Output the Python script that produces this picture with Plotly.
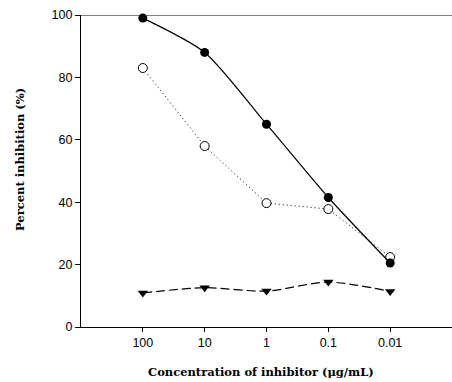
import plotly.graph_objects as go

conc_labels = ["100", "10", "1", "0.1", "0.01"]
pos = [0, 1, 2, 3, 4]
filled = [99.0, 88.0, 65.0, 41.5, 20.5]
open_c = [83.0, 58.0, 39.7, 37.8, 22.4]
triangles = [10.9, 12.6, 11.5, 14.4, 11.4]

fig = go.Figure()
fig.add_trace(go.Scatter(x=pos, y=open_c, mode="lines+markers",
                         line=dict(color="black", width=1, dash="1px,3px"),
                         marker=dict(symbol="circle", size=9, color="white",
                                     line=dict(color="black", width=1)),
                         cliponaxis=False))
fig.add_trace(go.Scatter(x=pos, y=filled, mode="lines+markers",
                         line=dict(color="black", width=1.2, shape="spline", smoothing=0.7),
                         marker=dict(symbol="circle", size=9, color="black"),
                         cliponaxis=False))
fig.add_trace(go.Scatter(x=pos, y=triangles, mode="lines+markers",
                         line=dict(color="black", width=1.2, dash="9px,4px", shape="spline", smoothing=0.8),
                         marker=dict(symbol="triangle-down", size=9, color="black"),
                         cliponaxis=False))

fig.add_shape(type="line", xref="paper", yref="y", x0=0, x1=1, y0=100, y1=100,
              line=dict(color="black", width=1.2))

title_font = dict(family="DejaVu Serif", size=11.5, color="black")
fig.add_annotation(text="<b>Concentration of inhibitor (μg/mL)</b>", xref="paper", yref="paper",
                   x=(261 - 81) / 371, y=-(372 - 327) / 312, xanchor="center", yanchor="middle",
                   showarrow=False, font=title_font)
fig.add_annotation(text="<b>Percent inhibition (%)</b>", xref="paper", yref="paper",
                   x=-(81 - 20) / 371, y=(327 - 160) / 312, xanchor="center", yanchor="middle",
                   textangle=-90, showarrow=False, font=title_font)

fig.update_layout(
    width=452, height=382,
    margin=dict(l=81, r=0, t=15, b=55),
    paper_bgcolor="white", plot_bgcolor="white",
    showlegend=False,
    font=dict(family="Liberation Sans, Arial", size=12.5, color="black"),
)
fig.update_xaxes(range=[-1, 5], tickvals=pos, ticktext=conc_labels,
                 showgrid=False, zeroline=False, showline=True, linecolor="black", linewidth=1.2,
                 ticks="outside", ticklen=4, tickcolor="black")
fig.update_yaxes(range=[0, 100], tickvals=[0, 20, 40, 60, 80, 100],
                 showgrid=False, zeroline=False, showline=True, linecolor="black", linewidth=1.2,
                 ticks="outside", ticklen=5, tickcolor="black")

fig.write_html("out.html")
